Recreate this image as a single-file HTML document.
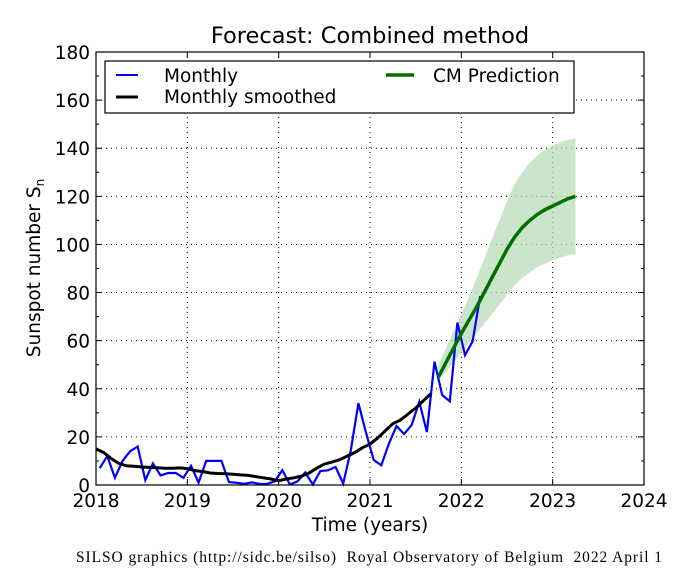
<!DOCTYPE html>
<html><head><meta charset="utf-8"><style>
body{margin:0;background:#fff;width:685px;height:571px;overflow:hidden}
svg{display:block}
text{font-family:"DejaVu Sans","Liberation Sans",sans-serif;fill:#000}
</style></head><body>
<svg id="chart" width="685" height="571" xmlns="http://www.w3.org/2000/svg"></svg>
<script>
const monthly=[7,12,3,10,14,16,2,9,4,5,5,3, 8,1,10,10,10,1.2,0.9,0.5,1.1,0.4,0.5,1.5, 6.2,0.2,1.5,5.2,0.2,5.8,6.1,7.5,0.6,14.4,34,21.8, 10.4,8.2,17.2,24.5,21.2,25,34.6,22,51.3,37.4,34.8,67.5, 54,59.7,78.5];
const smoothed=[15,13.5,11,9,8,7.8,7.5,7.3,7.2,7,7,7.1, 6.8,6,5.6,5,4.8,4.7,4.5,4.2,4,3.5,3,2.5, 1.8,2.5,3,3.7,5,7,8.7,9.5,10.5,12,13.5,15.5, 17,19.5,22.5,25.5,27,29.5,32,35,38];
const predicted=[45,51,57,63,68.5,74,80,86,92,98,103,107,110,112.5,114.5,116,117.5,119,120];
const predLow=[44,47,51,55,59,63,67,71,75,79,83,86,88.5,90.5,92,93.5,94.5,95.5,96];
const predHigh=[50,57,64,71,78,86,94,102,110,118,125,130,134,137,139.5,141,142.5,143.5,144];
const startMonthly=2018.04, startSmoothed=2018.0, startPred=2021.75;
const xTicks=[2018,2019,2020,2021,2022,2023,2024];
const yTicks=[0,20,40,60,80,100,120,140,160,180];

const L=96,R=644,T=52,B=485;
const X=v=>L+(v-2018)/6*(R-L), Y=v=>B-v/180*(B-T);
const svg=document.getElementById('chart');
const NS='http://www.w3.org/2000/svg';
function el(tag,attrs,parent){const e=document.createElementNS(NS,tag);for(const k in attrs)e.setAttribute(k,attrs[k]);(parent||svg).appendChild(e);return e;}
function pts(arr,start){return arr.map((v,i)=>X(start+i/12).toFixed(1)+','+Y(v).toFixed(1)).join(' ');}

xTicks.forEach(t=>{if(t>2018&&t<2024){const g=el('line',{x1:X(t),x2:X(t),y1:T,y2:B,stroke:'#000','stroke-width':1,'stroke-dasharray':'1,4'});

}});
yTicks.forEach(t=>{if(t>0&&t<180){const g=el('line',{x1:L,x2:R,y1:Y(t),y2:Y(t),stroke:'#000','stroke-width':1,'stroke-dasharray':'1,4'});

}});

const band=el('polygon',{points:pts(predHigh,startPred)+' '+predLow.map((v,i)=>[X(startPred+i/12).toFixed(1),Y(v).toFixed(1)].join(',')).reverse().join(' '),fill:'#b9dcb9',opacity:0.75});



const m=el('polyline',{points:pts(monthly,startMonthly),fill:'none',stroke:'#0000ff','stroke-width':2.2});


const s=el('polyline',{points:pts(smoothed,startSmoothed),fill:'none',stroke:'#000','stroke-width':3});


const p=el('polyline',{points:pts(predicted,startPred),fill:'none',stroke:'#007000','stroke-width':3.5});



const fr=el('rect',{x:L,y:T,width:R-L,height:B-T,fill:'none',stroke:'#000','stroke-width':1.2});



xTicks.forEach(t=>{
 el('line',{x1:X(t),x2:X(t),y1:B,y2:B-6,stroke:'#000'});
 el('line',{x1:X(t),x2:X(t),y1:T,y2:T+6,stroke:'#000'});
 const tx=el('text',{x:X(t),y:B+22,'text-anchor':'middle','font-size':18.5});tx.textContent=t;
 
 
});
yTicks.forEach(t=>{
 el('line',{x1:L,x2:L+6,y1:Y(t),y2:Y(t),stroke:'#000'});
 el('line',{x1:R,x2:R-6,y1:Y(t),y2:Y(t),stroke:'#000'});
 if(t<180){el('line',{x1:L,x2:L+3,y1:Y(t+10),y2:Y(t+10),stroke:'#000'});el('line',{x1:R,x2:R-3,y1:Y(t+10),y2:Y(t+10),stroke:'#000'});}
 const tx=el('text',{x:L-6,y:Y(t)+7,'text-anchor':'end','font-size':18.5});tx.textContent=t;
 
 
});
</script>
<svg style="position:absolute;left:0;top:0" width="685" height="571" xmlns="http://www.w3.org/2000/svg">
<text x="370" y="43" text-anchor="middle" font-size="22.5">Forecast: Combined method</text>
<text x="370" y="531" text-anchor="middle" font-size="18.5">Time (years)</text>
<text transform="translate(40,268) rotate(-90)" text-anchor="middle" font-size="18.5">Sunspot number S<tspan font-size="12" dy="4">n</tspan></text>
<g>
<rect x="105" y="61" width="469" height="52" fill="#fff" stroke="#000" stroke-width="1.2"/>
<line x1="116" y1="75" x2="138" y2="75" stroke="#0000ff" stroke-width="2"/>
<text x="164" y="82" font-size="18.5">Monthly</text>
<line x1="116" y1="97" x2="138" y2="97" stroke="#000" stroke-width="3"/>
<text x="164" y="103" font-size="18.5">Monthly smoothed</text>
<line x1="386" y1="75" x2="414" y2="75" stroke="#007000" stroke-width="3.5"/>
<text x="433" y="82" font-size="18.5">CM Prediction</text>
</g>
<text x="76" y="562" font-size="15.5" textLength="586" style="font-family:'Liberation Serif',serif;white-space:pre">SILSO graphics (http://sidc.be/silso)  Royal Observatory of Belgium  2022 April 1</text>
</svg>
</body></html>
